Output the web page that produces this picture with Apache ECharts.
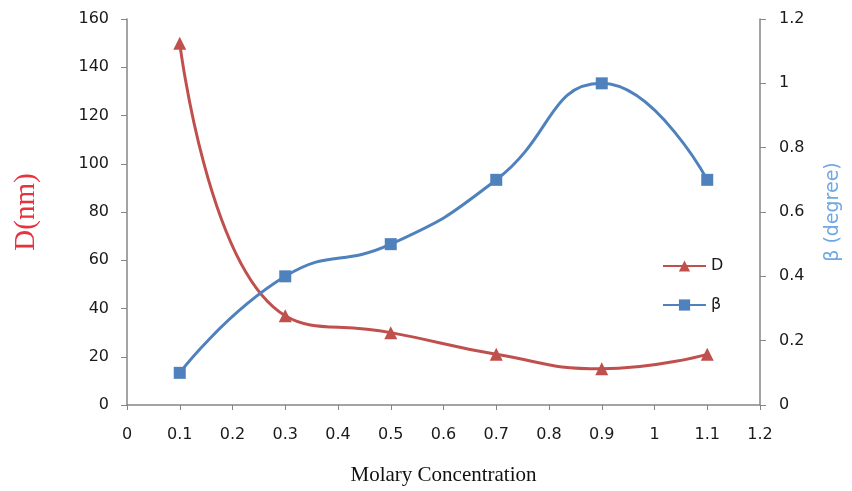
<!DOCTYPE html>
<html>
<head>
<meta charset="utf-8">
<script src="https://cdn.jsdelivr.net/npm/echarts@6/dist/echarts.min.js"></script>
<style>
  html, body { margin: 0; padding: 0; background: #fff; }
  #chart { width: 852px; height: 491px; }
</style>
</head>
<body>
<div id="chart"></div>
<script>
// Molar concentration of the precursor solution
const concentration = [0.1, 0.3, 0.5, 0.7, 0.9, 1.1];
// Crystallite size D (nm)
const sizeD = [150, 37, 30, 21, 15, 21];
// Peak broadening β (degree)
const beta = [0.1, 0.4, 0.5, 0.7, 1.0, 0.7];

const red = '#C0504D';
const blue = '#4F81BD';
const axisGrey = '#868686';
const tickFont = { color: '#1a1a1a', fontSize: 16, fontFamily: 'DejaVu Sans' };

const pairs = (xs, ys) => xs.map((x, i) => [x, ys[i]]);

const chart = echarts.init(document.getElementById('chart'), null, { renderer: 'canvas' });
chart.setOption({
  animation: false,
  backgroundColor: '#fff',
  grid: { left: 127, right: 92, top: 19, bottom: 86, containLabel: false },
  legend: {
    orient: 'vertical',
    left: 657,
    top: 253,
    itemWidth: 43,
    itemHeight: 14,
    itemGap: 23,
    textStyle: { color: '#1a1a1a', fontSize: 16, fontFamily: 'DejaVu Sans' },
    data: ['D', 'β']
  },
  xAxis: {
    type: 'value',
    min: 0,
    max: 1.2,
    interval: 0.1,
    name: 'Molary Concentration',
    nameLocation: 'middle',
    nameGap: 60,
    nameTextStyle: { color: '#111', fontSize: 21, fontFamily: 'Liberation Serif' },
    axisLine: { show: true, lineStyle: { color: axisGrey, width: 1.5 } },
    axisTick: { show: true, length: 5, lineStyle: { color: axisGrey } },
    axisLabel: Object.assign({ margin: 22, formatter: v => String(+v.toFixed(1)) }, tickFont),
    splitLine: { show: false }
  },
  yAxis: [
    {
      type: 'value',
      min: 0,
      max: 160,
      interval: 20,
      name: 'D(nm)',
      nameLocation: 'middle',
      nameGap: 86,
      nameRotate: 90,
      nameTextStyle: { color: '#E8333F', fontSize: 29, fontFamily: 'Liberation Serif' },
      axisLine: { show: true, onZero: false, lineStyle: { color: axisGrey, width: 1.5 } },
      axisTick: { show: true, length: 6, lineStyle: { color: axisGrey } },
      axisLabel: Object.assign({ margin: 18 }, tickFont),
      splitLine: { show: false }
    },
    {
      type: 'value',
      min: 0,
      max: 1.2,
      interval: 0.2,
      position: 'right',
      name: 'β (degree)',
      nameLocation: 'middle',
      nameGap: 64,
      nameRotate: 90,
      nameTextStyle: { color: '#6FA8E4', fontSize: 19, fontFamily: 'DejaVu Sans' },
      axisLine: { show: true, onZero: false, lineStyle: { color: axisGrey, width: 1.5 } },
      axisTick: { show: true, length: 6, lineStyle: { color: axisGrey } },
      axisLabel: Object.assign({ margin: 19, formatter: v => String(+v.toFixed(1)) }, tickFont),
      splitLine: { show: false }
    }
  ],
  series: [
    {
      name: 'D',
      type: 'line',
      yAxisIndex: 0,
      smooth: 0.5,
      data: pairs(concentration, sizeD),
      symbol: 'triangle',
      symbolSize: 13,
      lineStyle: { color: red, width: 3 },
      itemStyle: { color: red }
    },
    {
      name: 'β',
      type: 'line',
      yAxisIndex: 1,
      smooth: 0.5,
      data: pairs(concentration, beta),
      symbol: 'rect',
      symbolSize: 12,
      lineStyle: { color: blue, width: 3 },
      itemStyle: { color: blue }
    }
  ]
});
</script>
</body>
</html>
